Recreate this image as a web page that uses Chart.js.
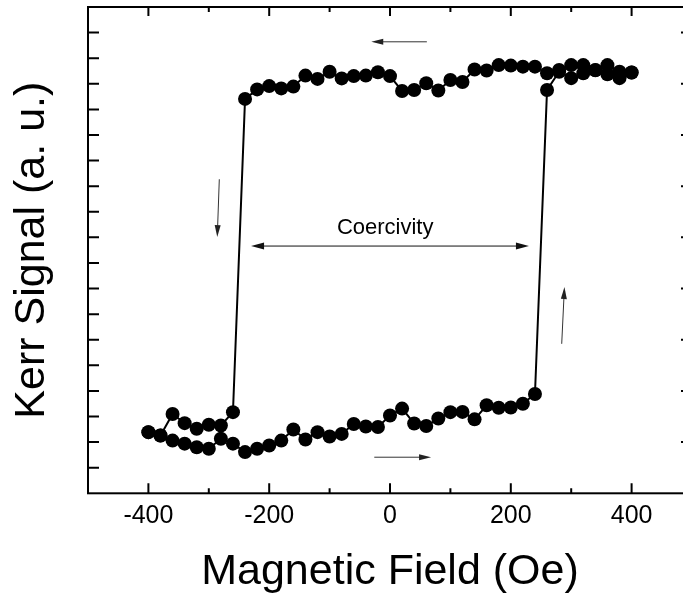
<!DOCTYPE html>
<html>
<head>
<meta charset="utf-8">
<script src="https://cdn.jsdelivr.net/npm/chart.js@4.4.1/dist/chart.umd.min.js"></script>
<style>
  html, body { margin: 0; padding: 0; background: #fff; overflow: hidden; }
  #wrap { width: 683px; height: 594px; position: relative; overflow: hidden; }
  #c { display: block; }
</style>
</head>
<body>
<div id="wrap"><canvas id="c" width="700" height="594"></canvas></div>
<script>
// ---- Data ----
// Field sweep from +400 Oe down to -400 Oe (upper branch, then switch)
const fieldDown = [400, 380, 360, 340, 320, 300, 280, 260, 240, 220, 200, 180, 160, 140, 120, 100, 80, 60, 40, 20, 0,
                   -20, -40, -60, -80, -100, -120, -140, -160, -180, -200, -220, -240, -260, -280, -300, -320, -340, -360, -380, -400];
const kerrDown  = [16.44, 16.47, 16.73, 16.54, 16.73, 16.73, 16.54, 16.41, 16.67, 16.67, 16.71, 16.73, 16.52, 16.56, 16.07, 16.15, 15.74, 16.02, 15.76, 15.72, 16.30,
                   16.45, 16.32, 16.30, 16.21, 16.47, 16.19, 16.32, 15.89, 15.82, 15.91, 15.78, 15.41, 3.17, 2.65, 2.68, 2.52, 2.74, 3.10, 2.26, 2.39];
// Field sweep from -400 Oe up to +400 Oe (lower branch, then switch)
const fieldUp   = [-400, -380, -360, -340, -320, -300, -280, -260, -240, -220, -200, -180, -160, -140, -120, -100, -80, -60, -40, -20, 0,
                   20, 40, 60, 80, 100, 120, 140, 160, 180, 200, 220, 240, 260, 280, 300, 320, 340, 360, 380, 400];
const kerrUp    = [2.39, 2.26, 2.06, 1.94, 1.80, 1.74, 2.13, 1.94, 1.61, 1.74, 1.87, 2.06, 2.49, 2.10, 2.39, 2.22, 2.32, 2.71, 2.61, 2.59, 3.04,
                   3.31, 2.73, 2.63, 2.92, 3.17, 3.18, 2.89, 3.44, 3.34, 3.35, 3.50, 3.88, 15.76, 16.47, 16.22, 16.41, 16.53, 16.37, 16.22, 16.44];

const xTickValues = [-400, -300, -200, -100, 0, 100, 200, 300, 400];
const xTickLabels = ['-400', '-200', '0', '200', '400'];
const yTickValues = [1, 2, 3, 4, 5, 6, 7, 8, 9, 10, 11, 12, 13, 14, 15, 16, 17, 18];

const xTitle = 'Magnetic Field (Oe)';
const yTitle = 'Kerr Signal (a. u.)';
const coercivityLabel = 'Coercivity';

// annotation arrows, in data coordinates [field, signal]
const sweepArrowFrom = [[61, 17.64], [-26, 1.41], [-282.6, 12.27], [284.3, 5.84]];
const sweepArrowTo   = [[-31, 17.64], [68, 1.41], [-286, 10.01], [288.8, 8.06]];
const coercivityField = [-230, 230];
const coercivitySignal = 9.66;
const coercivityLabelAt = [-8, 10.37];

const FONT = '"Liberation Sans", Arial, Helvetica, sans-serif';

function pairs(xs, ys) { return xs.map((v, i) => ({ x: v, y: ys[i] })); }

function drawArrowHead(ctx, x1, y1, x2, y2, len, half) {
  const ang = Math.atan2(y2 - y1, x2 - x1);
  ctx.beginPath();
  ctx.moveTo(x2, y2);
  ctx.lineTo(x2 - len * Math.cos(ang) + half * Math.sin(ang), y2 - len * Math.sin(ang) - half * Math.cos(ang));
  ctx.lineTo(x2 - len * Math.cos(ang) - half * Math.sin(ang), y2 - len * Math.sin(ang) + half * Math.cos(ang));
  ctx.closePath();
  ctx.fill();
}

const framePlugin = {
  id: 'frame',
  afterDraw(chart) {
    const { ctx, chartArea: a, scales: { x, y } } = chart;
    ctx.save();
    ctx.strokeStyle = '#000';
    ctx.lineWidth = 2;
    ctx.strokeRect(a.left, a.top, a.right - a.left, a.bottom - a.top);
    ctx.beginPath();
    xTickValues.forEach(v => {
      const px = x.getPixelForValue(v);
      const major = v % 200 === 0;
      ctx.moveTo(px, a.bottom); ctx.lineTo(px, a.bottom - (major ? 10 : 5));
      ctx.moveTo(px, a.top); ctx.lineTo(px, a.top + (major ? 9 : 5));
    });
    yTickValues.forEach(v => {
      const py = y.getPixelForValue(v);
      ctx.moveTo(a.left, py); ctx.lineTo(a.left + 11, py);
      if (v % 2 === 0) { ctx.moveTo(a.right, py); ctx.lineTo(a.right - 11, py); }
    });
    ctx.stroke();
    ctx.restore();
  }
};

const annotationPlugin = {
  id: 'notes',
  afterDatasetsDraw(chart) {
    const { ctx, scales: { x, y } } = chart;
    ctx.save();
    ctx.strokeStyle = '#333';
    ctx.fillStyle = '#222';
    ctx.lineWidth = 1;
    sweepArrowFrom.forEach((f, i) => {
      const t = sweepArrowTo[i];
      const x1 = x.getPixelForValue(f[0]), y1 = y.getPixelForValue(f[1]);
      const x2 = x.getPixelForValue(t[0]), y2 = y.getPixelForValue(t[1]);
      const ang = Math.atan2(y2 - y1, x2 - x1);
      ctx.beginPath();
      ctx.moveTo(x1, y1);
      ctx.lineTo(x2 - 10 * Math.cos(ang), y2 - 10 * Math.sin(ang));
      ctx.stroke();
      drawArrowHead(ctx, x1, y1, x2, y2, 12, 3);
    });
    const cx1 = x.getPixelForValue(coercivityField[0]);
    const cx2 = x.getPixelForValue(coercivityField[1]);
    const cy = y.getPixelForValue(coercivitySignal);
    ctx.strokeStyle = '#111';
    ctx.fillStyle = '#111';
    ctx.beginPath();
    ctx.moveTo(cx1 + 10, cy); ctx.lineTo(cx2 - 10, cy);
    ctx.stroke();
    drawArrowHead(ctx, cx2, cy, cx1, cy, 13, 3.5);
    drawArrowHead(ctx, cx1, cy, cx2, cy, 13, 3.5);
    ctx.font = '22px ' + FONT;
    ctx.textAlign = 'center';
    ctx.textBaseline = 'middle';
    ctx.fillStyle = '#000';
    ctx.fillText(coercivityLabel, x.getPixelForValue(coercivityLabelAt[0]), y.getPixelForValue(coercivityLabelAt[1]));
    ctx.restore();
  }
};

const pointStyle = {
  showLine: true,
  borderColor: '#000',
  backgroundColor: '#000',
  borderWidth: 2,
  pointRadius: 7,
  pointHoverRadius: 7,
  pointBorderWidth: 0,
  pointBackgroundColor: '#000',
  tension: 0
};

new Chart(document.getElementById('c'), {
  type: 'scatter',
  data: {
    datasets: [
      Object.assign({ label: 'Sweep down', data: pairs(fieldDown, kerrDown) }, pointStyle),
      Object.assign({ label: 'Sweep up', data: pairs(fieldUp, kerrUp) }, pointStyle)
    ]
  },
  options: {
    responsive: false,
    devicePixelRatio: 1,
    animation: false,
    layout: { padding: { top: 5, right: 6.5, left: 0, bottom: 0 } },
    plugins: { legend: { display: false }, tooltip: { enabled: false } },
    scales: {
      x: {
        type: 'linear',
        min: -500, max: 500,
        grid: { display: false, drawTicks: false },
        border: { display: false },
        ticks: {
          stepSize: 100,
          autoSkip: false,
          maxRotation: 0,
          padding: 8,
          color: '#000',
          font: { family: FONT, size: 25 },
          callback: (v) => {
            const s = String(v);
            return xTickLabels.includes(s) ? s : '';
          }
        },
        title: {
          display: true,
          text: xTitle,
          color: '#000',
          font: { family: FONT, size: 43, lineHeight: 1.0 },
          padding: { top: 0, bottom: 0 }
        },
        afterFit: (s) => { s.height = 100.7; }
      },
      y: {
        type: 'linear',
        min: 0, max: 19,
        grid: { display: false, drawTicks: false },
        border: { display: false },
        ticks: { display: false, stepSize: 1 },
        title: {
          display: true,
          text: yTitle,
          color: '#000',
          font: { family: FONT, size: 43 },
          padding: { top: 6, bottom: 0 }
        },
        afterFit: (s) => { s.width = 88; }
      }
    }
  },
  plugins: [framePlugin, annotationPlugin]
});
</script>
</body>
</html>
